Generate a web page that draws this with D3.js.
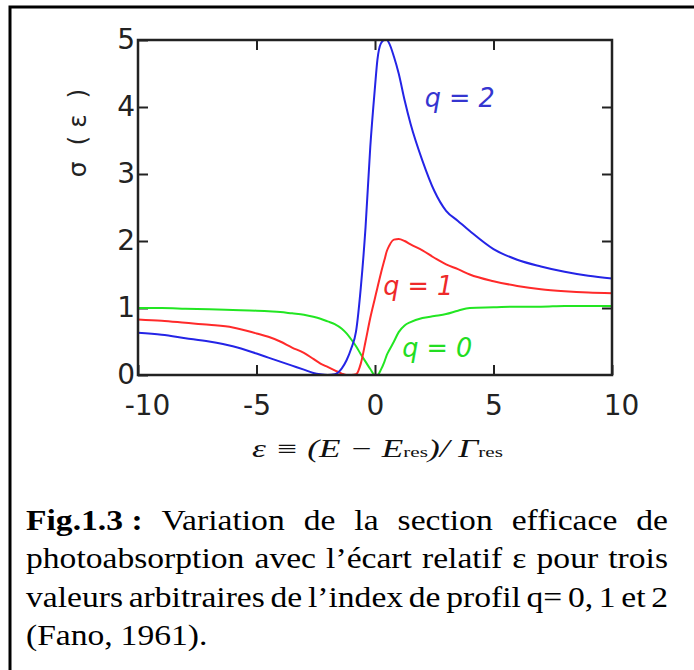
<!DOCTYPE html>
<html>
<head>
<meta charset="utf-8">
<script src="https://cdn.jsdelivr.net/npm/d3@7/dist/d3.min.js"></script>
<style>
  html, body { margin: 0; padding: 0; background: #fff; }
  svg { display: block; }
</style>
</head>
<body>
<svg id="chart" width="694" height="670"></svg>
<script>
// ---------- data ----------
const eps = [-10, -9, -8, -7, -6, -5, -4.5, -4, -3.5, -3, -2.6, -2.3, -2, -1.7, -1.4, -1.2, -1, -0.8, -0.6, -0.4, -0.2, 0, 0.1, 0.25, 0.4, 0.5, 0.6, 0.8, 1, 1.25, 1.5, 2, 2.5, 3, 3.5, 4, 5, 6, 7, 8, 9, 10];

const sigmaQ2 = [0.63, 0.60, 0.55, 0.50, 0.43, 0.32, 0.26, 0.20, 0.14, 0.08, 0.03, 0.01, 0.0, 0.01, 0.10, 0.22, 0.40, 0.65, 1.30, 2.20, 3.40, 4.30, 4.70, 4.95, 5.0, 5.0, 4.95, 4.75, 4.50, 4.10, 3.75, 3.20, 2.75, 2.45, 2.30, 2.15, 1.88, 1.72, 1.62, 1.54, 1.48, 1.44];

const sigmaQ1 = [0.83, 0.81, 0.78, 0.75, 0.71, 0.62, 0.57, 0.50, 0.41, 0.33, 0.24, 0.17, 0.12, 0.07, 0.02, 0.0, 0.0, 0.01, 0.17, 0.50, 0.85, 1.15, 1.30, 1.52, 1.72, 1.85, 1.93, 2.02, 2.03, 2.00, 1.95, 1.86, 1.75, 1.65, 1.58, 1.50, 1.40, 1.33, 1.28, 1.25, 1.23, 1.22];

const sigmaQ0 = [1.0, 1.0, 0.99, 0.98, 0.97, 0.96, 0.95, 0.94, 0.92, 0.90, 0.87, 0.84, 0.80, 0.76, 0.69, 0.62, 0.53, 0.43, 0.31, 0.20, 0.09, 0.0, 0.0, 0.08, 0.20, 0.30, 0.37, 0.50, 0.64, 0.74, 0.79, 0.85, 0.88, 0.91, 0.96, 1.0, 1.01, 1.02, 1.02, 1.03, 1.03, 1.03];

const seriesNames = ["q = 2", "q = 1", "q = 0"];
const seriesColors = ["#2424e6", "#ff2a2a", "#22e622"];
const labelColors = ["#3535d0", "#ee2a2a", "#22dd22"];

const xTicksBottom = [-10, -5, 0, 5, 10];
const xTicksTop = [-5, 0, 5];
const yTicksLeft = [0, 1, 2, 3, 4, 5];
const yTicksRight = [1, 2, 3, 4];

const captionLines = [
  "Variation de la section efficace de",
  "photoabsorption avec l’écart relatif ε pour trois",
  "valeurs arbitraires de l’index de profil q= 0, 1 et 2",
  "(Fano, 1961)."
];

// ---------- layout ----------
const svg = d3.select("#chart");
const plot = { left: 138, top: 40, right: 612, bottom: 375 };

// outer frame (right/bottom edges lie outside the picture)
svg.append("rect")
  .attr("x", 10).attr("y", 7).attr("width", 720).attr("height", 720)
  .attr("fill", "none").attr("stroke", "#000").attr("stroke-width", 3);

const x = d3.scaleLinear().domain([-10, 10]).range([plot.left, plot.right]);
const y = d3.scaleLinear().domain([0, 5]).range([plot.bottom, plot.top]);

const axisColor = "#222";
const tickFont = "'DejaVu Sans', Verdana, sans-serif";

function styleAxis(g) {
  g.select(".domain").remove();
  g.selectAll(".tick line").attr("stroke", axisColor).attr("stroke-width", 2);
  g.selectAll(".tick text").attr("fill", axisColor)
    .style("font-family", tickFont).style("font-size", "28px");
}

// bottom axis
const gBottom = svg.append("g").attr("transform", `translate(0,${plot.bottom})`)
  .call(d3.axisBottom(x).tickValues(xTicksBottom).tickSizeInner(-10).tickSizeOuter(0)
    .tickPadding(20).tickFormat(d3.format("d")))
  .call(styleAxis);
gBottom.selectAll(".tick text").text(d => (d < 0 ? "-" : "") + Math.abs(d))
  .attr("dx", d => (Math.abs(d) === 10 ? 9 : 0));

// top axis
svg.append("g").attr("transform", `translate(0,${plot.top})`)
  .call(d3.axisTop(x).tickValues(xTicksTop).tickSizeInner(-10).tickSizeOuter(0).tickFormat(""))
  .call(styleAxis);

// left axis
svg.append("g").attr("transform", `translate(${plot.left},0)`)
  .call(d3.axisLeft(y).tickValues(yTicksLeft).tickSizeInner(-10).tickSizeOuter(0)
    .tickPadding(3).tickFormat(d3.format("d")))
  .call(styleAxis);

// right axis
svg.append("g").attr("transform", `translate(${plot.right},0)`)
  .call(d3.axisRight(y).tickValues(yTicksRight).tickSizeInner(-10).tickSizeOuter(0).tickFormat(""))
  .call(styleAxis);

// clip
svg.append("clipPath").attr("id", "clip").append("rect")
  .attr("x", plot.left).attr("y", plot.top - 2)
  .attr("width", plot.right - plot.left).attr("height", plot.bottom - plot.top + 2);

const line = d3.line().x(d => x(d[0])).y(d => y(d[1])).curve(d3.curveMonotoneX);
const allSeries = [sigmaQ2, sigmaQ1, sigmaQ0];

[2, 1, 0].forEach(i => {
  svg.append("path")
    .datum(eps.map((e, k) => [e, allSeries[i][k]]))
    .attr("clip-path", "url(#clip)")
    .attr("fill", "none")
    .attr("stroke", seriesColors[i])
    .attr("stroke-width", 2)
    .attr("stroke-linejoin", "round")
    .attr("d", line);
});

// plot frame
svg.append("rect")
  .attr("x", plot.left).attr("y", plot.top)
  .attr("width", plot.right - plot.left).attr("height", plot.bottom - plot.top)
  .attr("fill", "none").attr("stroke", axisColor).attr("stroke-width", 2.5);

// curve labels
const labelPos = [[2.1, 4.0], [0.35, 1.19], [1.15, 0.27]];
seriesNames.forEach((name, i) => {
  svg.append("text")
    .attr("x", x(labelPos[i][0])).attr("y", y(labelPos[i][1]))
    .attr("fill", labelColors[i])
    .style("font-family", tickFont).style("font-style", "italic")
    .style("font-size", "27px")
    .style("white-space", "pre")
    .attr("textLength", 70).attr("lengthAdjust", "spacingAndGlyphs")
    .text(name);
});

// y axis title
svg.append("text")
  .attr("transform", "translate(86,133) rotate(-90)")
  .attr("text-anchor", "middle")
  .attr("fill", axisColor)
  .style("font-family", tickFont).style("font-size", "25px")
  .style("white-space", "pre")
  .text("σ  ( ε  )");

// x axis title
const xt = svg.append("text")
  .attr("x", 252).attr("y", 457)
  .attr("fill", "#111")
  .attr("textLength", 251).attr("lengthAdjust", "spacingAndGlyphs")
  .style("font-family", "'Liberation Serif', 'Times New Roman', serif")
  .style("font-size", "25px").style("white-space", "pre");
xt.append("tspan").style("font-style", "italic").text("ε ≡ (E − E");
xt.append("tspan").style("font-size", "15px").text("res");
xt.append("tspan").style("font-style", "italic").text(")/ Γ");
xt.append("tspan").style("font-size", "15px").text("res");

// caption (justified, slightly stretched horizontally like the reference)
const capFont = "'Liberation Serif', 'Times New Roman', serif";
const sx = 1.12;
const capLeft = 26, capRight = 668, capBase = [530, 568, 607, 645];
const capG = svg.append("g").attr("transform", `scale(${sx},1)`);
captionLines.forEach((ln, li) => {
  const tokens = [];
  if (li === 0) tokens.push({ t: "Fig.1.3 :", bold: true });
  ln.split(" ").forEach(w => tokens.push({ t: w, bold: false }));
  const nodes = tokens.map(tok => capG.append("text")
    .attr("y", capBase[li])
    .attr("fill", "#000")
    .style("font-family", capFont).style("font-size", "30px")
    .style("font-weight", tok.bold ? "bold" : "normal")
    .style("white-space", "pre")
    .text(tok.t));
  const widths = nodes.map(n => n.node().getComputedTextLength());
  const total = d3.sum(widths);
  const last = li === captionLines.length - 1;
  const W = (capRight - capLeft) / sx;
  const gap = last ? 7 : (W - total) / (nodes.length - 1);
  let cx = capLeft / sx;
  nodes.forEach((n, k) => { n.attr("x", cx); cx += widths[k] + gap; });
});
</script>
</body>
</html>
